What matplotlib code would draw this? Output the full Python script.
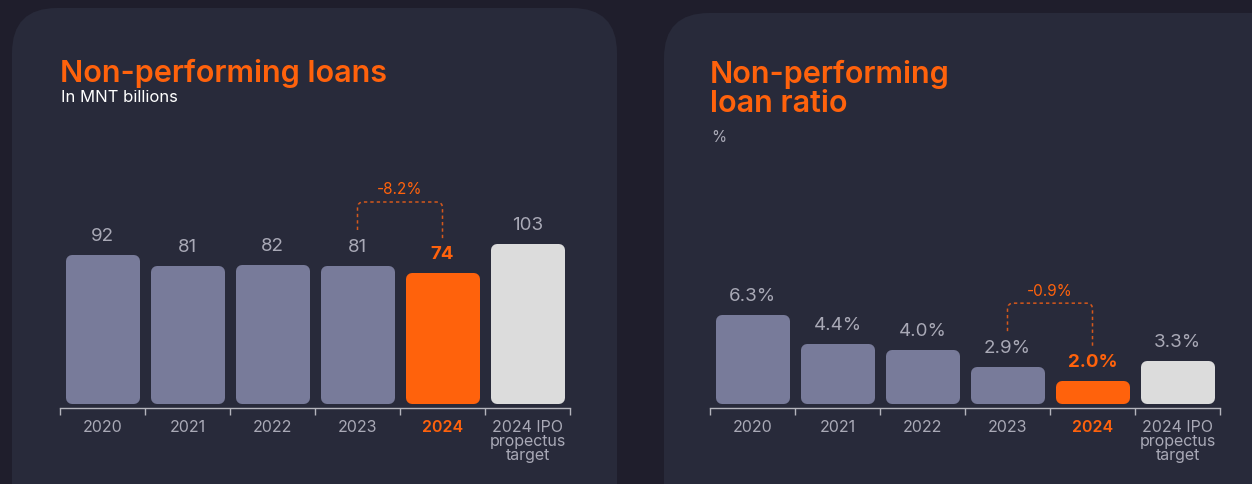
import numpy as np
import matplotlib.pyplot as plt
from matplotlib.patches import FancyBboxPatch, PathPatch
from matplotlib.path import Path

# data
categories = ["2020", "2021", "2022", "2023", "2024", "2024 IPO\npropectus\ntarget"]
npl_values = [92, 81, 82, 81, 74, 103]
npl_labels = ["92", "81", "82", "81", "74", "103"]
npl_change = "-8.2%"
ratio_values = [6.3, 4.4, 4.0, 2.9, 2.0, 3.3]
ratio_labels = ["6.3%", "4.4%", "4.0%", "2.9%", "2.0%", "3.3%"]
ratio_change = "-0.9%"

BG = "#1f1e2c"
CARD = "#282a3a"
ORANGE = "#ff620c"
GREY_BAR = "#787b9a"
LIGHT_BAR = "#dcdcdc"
TXT = "#a9a9b6"
AXIS = "#b4b4bc"
bar_colors = [GREY_BAR] * 4 + [ORANGE, LIGHT_BAR]

plt.rcParams['font.family'] = ['Inter', 'DejaVu Sans']

W, H = 1252, 485
fig = plt.figure(figsize=(W / 100, H / 100), dpi=100, facecolor=BG)

# cards (pixel coords)
for x0, top, w in [(12, 9, 605), (664, 14, 700)]:
    card = FancyBboxPatch((x0, -80), w, H - top + 80,
                          boxstyle="round,pad=0,rounding_size=45",
                          transform=None, facecolor=CARD, edgecolor="none", zorder=0)
    fig.add_artist(card)

AX_H = 255  # px


def draw_panel(left_px, values, labels, change, base, ppu):
    ax = fig.add_axes([left_px / W, 80 / H, 510 / W, AX_H / H])
    ax.set_facecolor("none")
    ax.set_xlim(-0.5, len(values) - 0.5)
    ax.set_ylim(base, base + AX_H / ppu)
    px = 1.0 / ppu          # data units per pixel in y
    pxx = 1.0 / 85          # data units per pixel in x

    # rounded bars: thick round-joined edge of the same colour
    r = 6
    lw = 2 * r * 72 / 100
    x = np.arange(len(values))
    heights = [v - base - 2 * r * px for v in values]
    ax.bar(x, heights, bottom=base + r * px, width=(74 - 2 * r) * pxx,
           color=bar_colors, edgecolor=bar_colors, linewidth=lw,
           joinstyle="round", clip_on=False, zorder=2)

    for i, (v, lab) in enumerate(zip(values, labels)):
        hl = i == 4
        ax.annotate(lab, (i, v), xytext=(0, 11), textcoords="offset points",
                    ha="center", va="baseline", fontsize=13.5,
                    color=ORANGE if hl else TXT,
                    fontweight="bold" if hl else "normal")

    # dashed bracket between 2023 and 2024
    x1, x2 = 3, 4
    ytop = max(values[3], values[4]) + 64 * px
    y1 = values[3] + 36 * px
    y2 = values[4] + 34 * px
    rx, ry = 6 * pxx, 6 * px
    verts = [(x1, y1), (x1, ytop - ry), (x1, ytop), (x1 + rx, ytop),
             (x2 - rx, ytop), (x2, ytop), (x2, ytop - ry), (x2, y2)]
    codes = [Path.MOVETO, Path.LINETO, Path.CURVE3, Path.CURVE3,
             Path.LINETO, Path.CURVE3, Path.CURVE3, Path.LINETO]
    ax.add_patch(PathPatch(Path(verts, codes), fill=False, edgecolor="#d4581c",
                           linewidth=1.1, linestyle=(0, (2.2, 2)), clip_on=False))
    ax.text((x1 + x2) / 2, ytop + 13 * px, change, ha="center", va="center",
            fontsize=11, color=ORANGE)

    # axis
    for s in ["left", "right", "top"]:
        ax.spines[s].set_visible(False)
    ax.spines["bottom"].set_position(("outward", 3))
    ax.spines["bottom"].set_color(AXIS)
    ax.spines["bottom"].set_linewidth(1)
    ax.set_yticks([])
    ax.set_xticks(np.arange(-0.5, len(values), 1))
    ax.set_xticklabels([])
    ax.tick_params(axis="x", which="major", length=5, width=1, color=AXIS)
    ax.set_xticks(x, minor=True)
    ax.set_xticklabels(categories, minor=True, fontsize=11.5, color=TXT,
                       linespacing=0.92)
    ax.tick_params(axis="x", which="minor", length=0, pad=8)
    lab24 = ax.get_xticklabels(minor=True)[4]
    lab24.set_color(ORANGE)
    lab24.set_fontweight("semibold")
    return ax


draw_panel(60, npl_values, npl_labels, npl_change, -57, 1.0)
draw_panel(710, ratio_values, ratio_labels, ratio_change, 0.5, 15.35)

# titles
fig.text(60 / W, 1 - 73 / H, "Non-performing loans", fontsize=22,
         fontweight="semibold", color=ORANGE, va="center", ha="left")
fig.text(61 / W, 1 - 98 / H, "In MNT billions", fontsize=12, color="white",
         va="center", ha="left")
fig.text(710 / W, 1 - 89 / H, "Non-performing\nloan ratio", fontsize=22,
         fontweight="semibold", color=ORANGE, va="center", ha="left",
         linespacing=1.05)
fig.text(711 / W, 1 - 138 / H, "%", fontsize=11, color=TXT,
         va="center", ha="left")

fig.savefig("out.png", dpi=100, facecolor=BG)
